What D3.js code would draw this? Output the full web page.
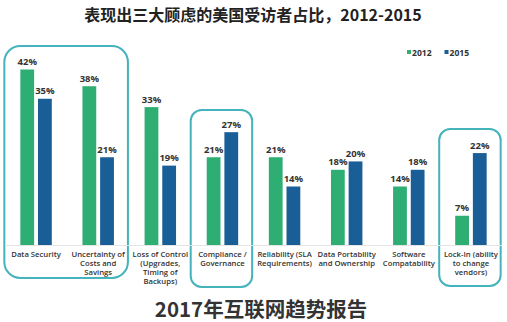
<!DOCTYPE html>
<html><head><meta charset="utf-8">
<script src="https://cdn.jsdelivr.net/npm/d3@7"></script>
<style>body{margin:0;background:#fff}svg{display:block}</style>
</head><body><svg id="c" width="507" height="322"></svg>
<script>
const categories = ["Data Security","Uncertainty of|Costs and|Savings","Loss of Control|(Upgrades,|Timing of|Backups)","Compliance /|Governance","Reliability (SLA|Requirements)","Data Portability|and Ownership","Software|Compatability","Lock-In (ability|to change|vendors)"];
const series2012 = [42,38,33,21,21,18,14,7];
const series2015 = [35,21,19,27,14,20,18,22];
const seriesNames = ["2012","2015"];
const colors = ["#2fae74","#1a5e98"];
const title = "表现出三大顾虑的美国受访者占比，2012-2015";
const footer = "2017年互联网趋势报告";
const highlightGroups = [[0,1],[3,3],[7,7]];

const svg = d3.select("#c");
const baseY = 245;
const x = d3.scaleBand().domain(d3.range(categories.length)).range([5,502]).paddingInner(0).paddingOuter(0);
const y = d3.scaleLinear().domain([0,42]).range([baseY, 69.5]);
const sub = d3.scaleBand().domain([0,1]).range([0,35]).paddingInner(0.22).paddingOuter(0.1);
const subOff = (x.bandwidth()-35)/2;

svg.append("text").attr("x",253).attr("y",21).attr("text-anchor","middle")
  .attr("font-family","'Noto Sans CJK SC', 'Noto Sans', sans-serif").attr("font-weight","bold")
  .attr("font-size",16).attr("fill","#222").text(title);

const boxSpec = [{y0:46,y1:278,r:16},{y0:110,y1:287,r:11},{y0:129,y1:286,r:11}];
highlightGroups.forEach((g,i)=>{
  const x0 = x(g[0]) + subOff + sub(0) - 16;
  const x1 = x(g[1]) + subOff + sub(1) + sub.bandwidth() + 14;
  const s = boxSpec[i];
  svg.append("rect").attr("x",x0).attr("y",s.y0).attr("width",x1-x0).attr("height",s.y1-s.y0)
    .attr("rx",s.r).attr("ry",s.r).attr("fill","none").attr("stroke","#45b3bc").attr("stroke-width",2);
});

svg.append("line").attr("x1",5).attr("x2",502).attr("y1",baseY+0.5).attr("y2",baseY+0.5).attr("stroke","#e4e4e4");

const data = categories.map((c,i)=>({c,i,vals:[series2012[i],series2015[i]]}));
const g = svg.selectAll("g.grp").data(data).join("g").attr("class","grp")
  .attr("transform",d=>`translate(${x(d.i)+subOff},0)`);
g.selectAll("rect").data(d=>d.vals.map((v,k)=>({v,k}))).join("rect")
  .attr("x",d=>sub(d.k)).attr("width",sub.bandwidth())
  .attr("y",d=>y(d.v)).attr("height",d=>baseY-y(d.v)).attr("fill",d=>colors[d.k]);
g.selectAll("text.val").data(d=>d.vals.map((v,k)=>({v,k}))).join("text").attr("class","val")
  .attr("x",d=>sub(d.k)+sub.bandwidth()/2).attr("y",d=>y(d.v)-4.5).attr("text-anchor","middle")
  .attr("font-family","'Open Sans', 'Noto Sans', sans-serif").attr("font-weight","bold")
  .attr("font-size",9.5).attr("fill","#333").text(d=>d.v+"%");

g.each(function(d){
  const lines = d.c.split("|");
  const t = d3.select(this).append("text").attr("text-anchor","middle")
    .attr("font-family","'Open Sans', 'Noto Sans', sans-serif").attr("font-weight","600")
    .attr("font-size",7.7).attr("fill","#333");
  lines.forEach((l,j)=>t.append("tspan").attr("x",17.5).attr("y",256.5+j*9).text(l));
});

const lg = svg.append("g");
seriesNames.forEach((n,i)=>{
  const lx = 407 + i*37.5;
  lg.append("rect").attr("x",lx).attr("y",50).attr("width",4).attr("height",4).attr("fill",colors[i]);
  lg.append("text").attr("x",lx+5).attr("y",55.5).attr("font-family","'Open Sans', 'Noto Sans', sans-serif")
    .attr("font-weight","bold").attr("font-size",8.6).attr("fill","#333").text(n);
});

svg.append("text").attr("x",261).attr("y",317).attr("text-anchor","middle")
  .attr("font-family","'Noto Sans CJK SC', 'Noto Sans', sans-serif").attr("font-weight","bold")
  .attr("font-size",20.5).attr("fill","#333").text(footer);
</script></body></html>
